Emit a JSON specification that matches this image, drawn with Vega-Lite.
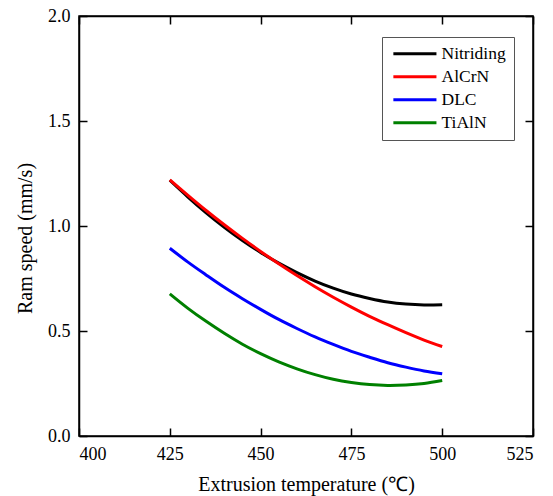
{
  "$schema": "https://vega.github.io/schema/vega-lite/v6.json",
  "width": 454,
  "height": 420,
  "autosize": {"type": "none"},
  "padding": {"left": 79, "top": 16, "right": 20, "bottom": 60},
  "background": "white",
  "config": {
    "font": "Liberation Serif",
    "view": {"stroke": "black", "strokeWidth": 1.5},
    "axis": {
      "grid": false,
      "domain": true,
      "domainColor": "black",
      "domainWidth": 1.5,
      "ticks": true,
      "tickColor": "black",
      "tickWidth": 1.5,
      "tickSize": -8,
      "labelColor": "black",
      "labelFont": "Liberation Serif",
      "labelFontSize": 18,
      "titleColor": "black",
      "titleFont": "Liberation Serif",
      "titleFontSize": 20,
      "titleFontWeight": "normal"
    },
    "legend": {
      "labelFont": "Liberation Serif",
      "labelFontSize": 17.5,
      "labelColor": "black"
    }
  },
  "data": {
    "values": [
      {"coating": "Nitriding", "temp": 425, "speed": 1.218},
      {"coating": "Nitriding", "temp": 430, "speed": 1.138},
      {"coating": "Nitriding", "temp": 435, "speed": 1.063},
      {"coating": "Nitriding", "temp": 440, "speed": 0.994},
      {"coating": "Nitriding", "temp": 445, "speed": 0.931},
      {"coating": "Nitriding", "temp": 450, "speed": 0.874},
      {"coating": "Nitriding", "temp": 455, "speed": 0.823},
      {"coating": "Nitriding", "temp": 460, "speed": 0.778},
      {"coating": "Nitriding", "temp": 465, "speed": 0.738},
      {"coating": "Nitriding", "temp": 470, "speed": 0.704},
      {"coating": "Nitriding", "temp": 475, "speed": 0.676},
      {"coating": "Nitriding", "temp": 480, "speed": 0.655},
      {"coating": "Nitriding", "temp": 485, "speed": 0.638},
      {"coating": "Nitriding", "temp": 490, "speed": 0.628},
      {"coating": "Nitriding", "temp": 495, "speed": 0.624},
      {"coating": "Nitriding", "temp": 500, "speed": 0.625},
      {"coating": "AlCrN", "temp": 425, "speed": 1.220},
      {"coating": "AlCrN", "temp": 430, "speed": 1.146},
      {"coating": "AlCrN", "temp": 435, "speed": 1.074},
      {"coating": "AlCrN", "temp": 440, "speed": 1.006},
      {"coating": "AlCrN", "temp": 445, "speed": 0.941},
      {"coating": "AlCrN", "temp": 450, "speed": 0.879},
      {"coating": "AlCrN", "temp": 455, "speed": 0.820},
      {"coating": "AlCrN", "temp": 460, "speed": 0.764},
      {"coating": "AlCrN", "temp": 465, "speed": 0.711},
      {"coating": "AlCrN", "temp": 470, "speed": 0.661},
      {"coating": "AlCrN", "temp": 475, "speed": 0.614},
      {"coating": "AlCrN", "temp": 480, "speed": 0.570},
      {"coating": "AlCrN", "temp": 485, "speed": 0.530},
      {"coating": "AlCrN", "temp": 490, "speed": 0.492},
      {"coating": "AlCrN", "temp": 495, "speed": 0.457},
      {"coating": "AlCrN", "temp": 500, "speed": 0.426},
      {"coating": "DLC", "temp": 425, "speed": 0.894},
      {"coating": "DLC", "temp": 430, "speed": 0.828},
      {"coating": "DLC", "temp": 435, "speed": 0.767},
      {"coating": "DLC", "temp": 440, "speed": 0.708},
      {"coating": "DLC", "temp": 445, "speed": 0.654},
      {"coating": "DLC", "temp": 450, "speed": 0.603},
      {"coating": "DLC", "temp": 455, "speed": 0.555},
      {"coating": "DLC", "temp": 460, "speed": 0.512},
      {"coating": "DLC", "temp": 465, "speed": 0.472},
      {"coating": "DLC", "temp": 470, "speed": 0.436},
      {"coating": "DLC", "temp": 475, "speed": 0.403},
      {"coating": "DLC", "temp": 480, "speed": 0.375},
      {"coating": "DLC", "temp": 485, "speed": 0.349},
      {"coating": "DLC", "temp": 490, "speed": 0.328},
      {"coating": "DLC", "temp": 495, "speed": 0.310},
      {"coating": "DLC", "temp": 500, "speed": 0.296},
      {"coating": "TiAlN", "temp": 425, "speed": 0.677},
      {"coating": "TiAlN", "temp": 430, "speed": 0.608},
      {"coating": "TiAlN", "temp": 435, "speed": 0.546},
      {"coating": "TiAlN", "temp": 440, "speed": 0.489},
      {"coating": "TiAlN", "temp": 445, "speed": 0.437},
      {"coating": "TiAlN", "temp": 450, "speed": 0.392},
      {"coating": "TiAlN", "temp": 455, "speed": 0.353},
      {"coating": "TiAlN", "temp": 460, "speed": 0.320},
      {"coating": "TiAlN", "temp": 465, "speed": 0.292},
      {"coating": "TiAlN", "temp": 470, "speed": 0.270},
      {"coating": "TiAlN", "temp": 475, "speed": 0.255},
      {"coating": "TiAlN", "temp": 480, "speed": 0.245},
      {"coating": "TiAlN", "temp": 485, "speed": 0.241},
      {"coating": "TiAlN", "temp": 490, "speed": 0.243},
      {"coating": "TiAlN", "temp": 495, "speed": 0.250},
      {"coating": "TiAlN", "temp": 500, "speed": 0.264}
    ]
  },
  "layer": [
    {
      "mark": {"type": "line", "strokeWidth": 3, "interpolate": "natural"},
      "encoding": {
        "x": {
          "field": "temp",
          "type": "quantitative",
          "scale": {"domain": [400, 525], "nice": false, "zero": false},
          "axis": {
            "values": [400, 425, 450, 475, 500, 525],
            "format": "d",
            "labelPadding": 17,
            "title": "Extrusion temperature (℃)",
            "titlePadding": 11
          }
        },
        "y": {
          "field": "speed",
          "type": "quantitative",
          "scale": {"domain": [0, 2], "nice": false},
          "axis": {
            "values": [0, 0.5, 1, 1.5, 2],
            "format": ".1f",
            "labelPadding": 17,
            "title": "Ram speed (mm/s)",
            "titlePadding": 12,
            "titleY": 222
          }
        },
        "color": {
          "field": "coating",
          "type": "nominal",
          "scale": {
            "domain": ["Nitriding", "AlCrN", "DLC", "TiAlN"],
            "range": ["#000000", "#ff0000", "#0000ff", "#008000"]
          },
          "legend": {
            "title": null,
            "orient": "none",
            "legendX": 303,
            "legendY": 21,
            "symbolType": "M-1,0H7",
            "symbolSize": 116,
            "symbolStrokeWidth": 3,
            "labelOffset": 34,
            "strokeColor": "#555555",
            "padding": 8,
            "rowPadding": 4
          }
        }
      }
    },
    {
      "mark": {"type": "line", "strokeOpacity": 0},
      "encoding": {
        "x": {
          "field": "temp",
          "type": "quantitative",
          "axis": {"orient": "top", "values": [400, 425, 450, 475, 500, 525], "labels": false, "title": null}
        },
        "y": {
          "field": "speed",
          "type": "quantitative",
          "axis": {"orient": "right", "values": [0, 0.5, 1, 1.5, 2], "labels": false, "title": null}
        },
        "detail": {"field": "coating"}
      }
    }
  ],
  "resolve": {"axis": {"x": "independent", "y": "independent"}}
}
